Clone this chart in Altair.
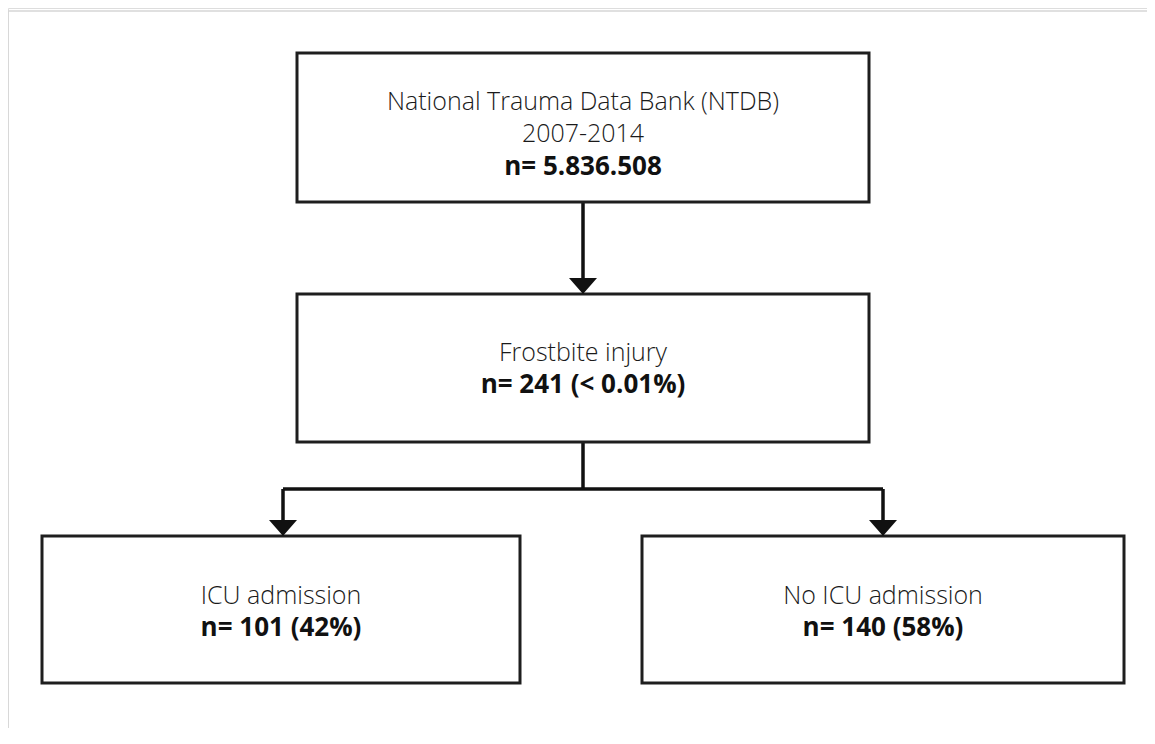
import altair as alt
import pandas as pd

# ---- flowchart content ----
box_names = ["ntdb", "frost", "icu", "noicu"]
box_x1 = [297, 297, 42, 642]
box_x2 = [869, 869, 520, 1124]
box_y1 = [53, 294, 536, 536]
box_y2 = [202, 442, 683, 683]

text_lines = [
    "National Trauma Data Bank (NTDB)", "2007-2014", "n= 5.836.508",
    "Frostbite injury", "n= 241 (< 0.01%)",
    "ICU admission", "n= 101 (42%)",
    "No ICU admission", "n= 140 (58%)",
]
text_bold = [False, False, True, False, True, False, True, False, True]
text_x = [583, 583, 583, 583, 583, 281, 281, 883, 883]
text_y = [102, 134, 167, 353, 385, 596, 628, 596, 628]

# connector segments (x, y, x2, y2)
seg_x1 = [583, 583, 283, 283, 883]
seg_y1 = [202, 442, 489, 489, 489]
seg_x2 = [583, 583, 883, 283, 883]
seg_y2 = [282, 489, 489, 524, 524]

# arrow heads (tip positions)
arrow_x = [583, 283, 883]
arrow_tip_y = [294, 536, 536]

# light frame lines
frame_x1 = [8, 8]
frame_y1 = [11, 11]
frame_x2 = [1147, 8]
frame_y2 = [11, 728]

W, H = 1139, 720
xs = alt.Scale(domain=[8, 8 + W], nice=False, zero=False)
ys = alt.Scale(domain=[8 + H, 8], nice=False, zero=False)

boxes = pd.DataFrame({"name": box_names, "x": box_x1, "x2": box_x2, "y": box_y1, "y2": box_y2})
texts = pd.DataFrame({"t": text_lines, "bold": text_bold, "x": text_x, "y": text_y})
segs = pd.DataFrame({"x": seg_x1, "y": seg_y1, "x2": seg_x2, "y2": seg_y2})
arrows = pd.DataFrame({"x": arrow_x, "y": [t - 8 for t in arrow_tip_y]})
frame = pd.DataFrame({"x": frame_x1, "y": frame_y1, "x2": frame_x2, "y2": frame_y2})

frame_layer = alt.Chart(frame).mark_rule(color="#d6d6d6", strokeWidth=1.5).encode(
    x=alt.X("x:Q", scale=xs, axis=None), y=alt.Y("y:Q", scale=ys, axis=None),
    x2="x2:Q", y2="y2:Q")

box_layer = alt.Chart(boxes).mark_rect(fill="white", stroke="#1e1e1e", strokeWidth=3).encode(
    x=alt.X("x:Q", scale=xs, axis=None), x2="x2:Q",
    y=alt.Y("y:Q", scale=ys, axis=None), y2="y2:Q")

seg_layer = alt.Chart(segs).mark_rule(color="#111111", strokeWidth=3.5).encode(
    x=alt.X("x:Q", scale=xs, axis=None), y=alt.Y("y:Q", scale=ys, axis=None),
    x2="x2:Q", y2="y2:Q")

arrow_layer = alt.Chart(arrows).mark_point(
    shape="M-1,-0.57L1,-0.57L0,0.57Z", filled=True, fill="#111111", stroke=None,
    size=784, opacity=1).encode(
    x=alt.X("x:Q", scale=xs, axis=None), y=alt.Y("y:Q", scale=ys, axis=None))

light_text = alt.Chart(texts[~texts["bold"]]).mark_text(
    font="Open Sans", fontSize=25, fontWeight=300, color="#1a1a1a",
    align="center", baseline="middle").encode(
    x=alt.X("x:Q", scale=xs, axis=None), y=alt.Y("y:Q", scale=ys, axis=None), text="t:N")

bold_text = alt.Chart(texts[texts["bold"]]).mark_text(
    font="Open Sans", fontSize=26, fontWeight="bold", color="#111111",
    align="center", baseline="middle").encode(
    x=alt.X("x:Q", scale=xs, axis=None), y=alt.Y("y:Q", scale=ys, axis=None), text="t:N")

chart = alt.layer(frame_layer, seg_layer, box_layer, arrow_layer, light_text, bold_text).properties(
    width=W, height=H, padding=0, autosize=alt.AutoSizeParams(type="none")
).configure_view(stroke=None).configure(background="white")

chart.save("out.html", embed_options={"renderer": "svg", "actions": False})
